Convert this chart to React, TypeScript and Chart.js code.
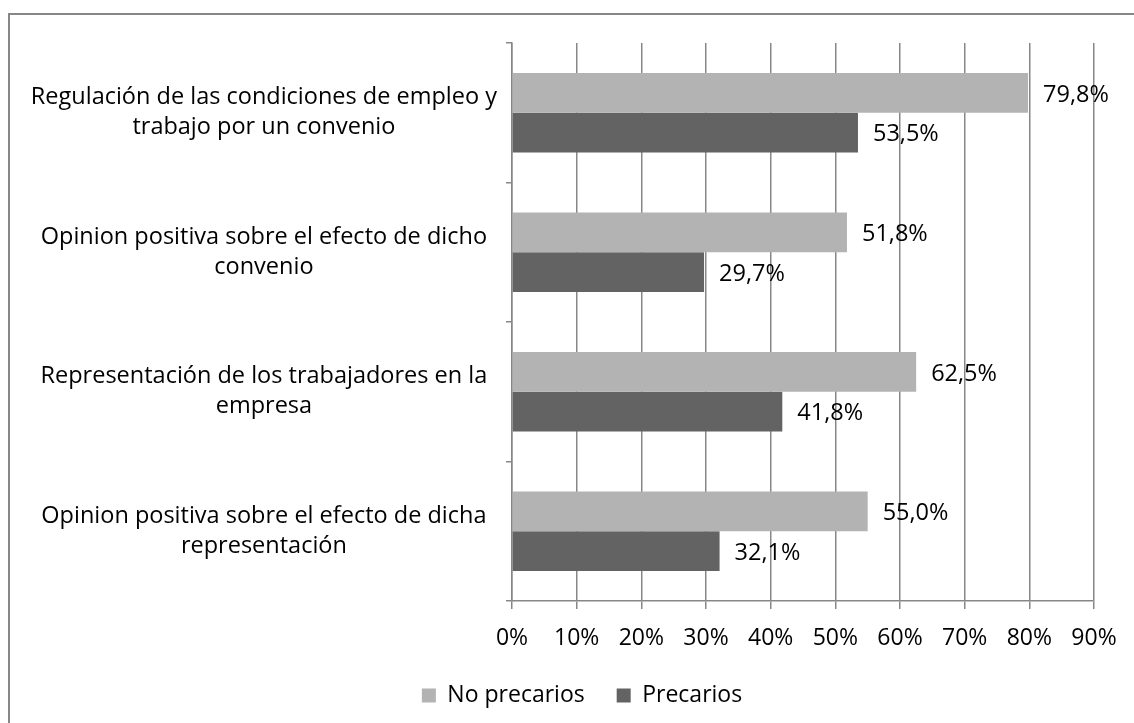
import React, { useEffect, useRef } from "react";
import { Chart, registerables } from "chart.js";

Chart.register(...registerables);

const categories: string[][] = [
  ["Regulación de las condiciones de empleo y", "trabajo por un convenio"],
  ["Opinion positiva sobre el efecto de dicho", "convenio"],
  ["Representación de los trabajadores en la", "empresa"],
  ["Opinion positiva sobre el efecto de dicha", "representación"],
];
const noPrecarios = [79.8, 51.8, 62.5, 55.0];
const precarios = [53.5, 29.7, 41.8, 32.1];
const seriesNames = ["No precarios", "Precarios"];
const xTickMax = 90;
const xTickStep = 10;

const FONT = "'Open Sans', sans-serif";
const FS = 23;
const GRID = "#878787";

const valueLabels = {
  id: "valueLabels",
  afterDatasetsDraw(chart: any) {
    const ctx = chart.ctx;
    ctx.save();
    ctx.font = `23.5px ${FONT}`;
    ctx.fillStyle = "#000";
    ctx.textAlign = "left";
    ctx.textBaseline = "middle";
    chart.data.datasets.forEach((ds: any, di: number) => {
      const meta = chart.getDatasetMeta(di);
      meta.data.forEach((bar: any, i: number) => {
        const v = ds.data[i] as number;
        const txt = v.toFixed(1).replace(".", ",") + "%";
        ctx.fillText(txt, bar.x + 15, bar.y + 2);
      });
    });
    ctx.restore();
  },
};

// the legend in the reference is centred on the full (wider) chart image
const legendShift = {
  id: "legendShift",
  afterLayout(chart: any) {
    if (chart.legend) {
      chart.legend.left += 60;
    }
  },
};

export default function App() {
  const ref = useRef<HTMLCanvasElement>(null);
  useEffect(() => {
    const chart = new Chart(ref.current!, {
      type: "bar",
      data: {
        labels: categories,
        datasets: [
          {
            label: seriesNames[0],
            data: noPrecarios,
            backgroundColor: "#b3b3b3",
            categoryPercentage: 0.5714,
            barPercentage: 1,
          },
          {
            label: seriesNames[1],
            data: precarios,
            backgroundColor: "#636363",
            categoryPercentage: 0.5714,
            barPercentage: 1,
          },
        ],
      },
      options: {
        indexAxis: "y",
        animation: false,
        responsive: false,
        maintainAspectRatio: false,
        layout: { padding: { top: 28, right: 40, left: 0, bottom: 6 } },
        scales: {
          x: {
            min: 0,
            max: xTickMax,
            ticks: {
              stepSize: xTickStep,
              color: "#000",
              font: { family: FONT, size: FS },
              padding: 16,
              callback: (v: any) => v + "%",
            },
            grid: {
              color: GRID,
              lineWidth: 1.5,
              tickLength: 8,
              drawOnChartArea: true,
            },
            border: { color: GRID, width: 1.5 },
            afterFit: (s: any) => {
              s.height = 51;
              s.paddingLeft = 0;
              s.paddingRight = 0;
            },
          },
          y: {
            ticks: {
              color: "#000",
              font: { family: FONT, size: 23.5, lineHeight: 1.28 },
              crossAlign: "center",
              padding: 9,
            },
            grid: {
              offset: true,
              drawOnChartArea: false,
              color: GRID,
              lineWidth: 1.5,
              tickLength: 6,
            },
            border: { color: GRID, width: 1.5 },
            afterFit: (s: any) => {
              s.width = 502;
              s.paddingTop = 0;
              s.paddingBottom = 0;
            },
          },
        },
        plugins: {
          legend: {
            position: "bottom",
            labels: {
              color: "#000",
              font: { family: FONT, size: FS },
              boxWidth: 14,
              boxHeight: 14,
              padding: 32,
            },
          },
          tooltip: { enabled: false },
        },
      },
      plugins: [valueLabels, legendShift],
    });
    return () => chart.destroy();
  }, []);

  return (
    <div
      style={{
        position: "fixed",
        left: 0,
        top: 0,
        width: 1134,
        height: 723,
        overflow: "hidden",
        background: "#fff",
      }}
    >
      <div
        style={{
          position: "absolute",
          left: 8,
          top: 13,
          width: 1140,
          height: 720,
          border: "2px solid #878787",
          boxSizing: "border-box",
        }}
      >
        <canvas ref={ref} width={1124} height={708} style={{ display: "block" }} />
      </div>
    </div>
  );
}
